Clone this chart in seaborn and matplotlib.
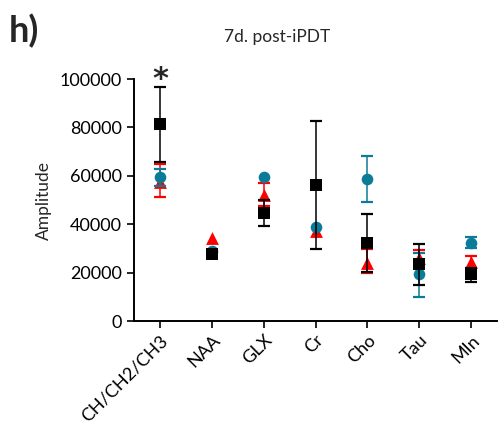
import matplotlib
matplotlib.use("Agg")
import matplotlib.pyplot as plt
import seaborn as sns
import numpy as np
import pandas as pd

categories = ["CH/CH2/CH3", "NAA", "GLX", "Cr", "Cho", "Tau", "MIn"]

black_mean = [81400, 27500, 44800, 56200, 32400, 23400, 19300]
black_hi = [96800, 27500, 50000, 82800, 44200, 31900, 21900]
black_lo = [65800, 27500, 39400, 29600, 20400, 14700, 16200]

teal_mean = [59600, 29000, 59400, 39000, 58700, 19400, 32100]
teal_hi = [63000, 29000, 59400, 39000, 68300, 28200, 34800]
teal_lo = [56000, 29000, 59400, 39000, 49300, 10000, 30200]

red_mean = [57600, 34200, 52100, 37300, 23800, 25900, 24200]
red_hi = [64900, 34200, 57200, 37300, 29600, 29300, 27000]
red_lo = [51400, 34200, 47500, 37300, 19700, 22500, 21500]

yticks = [0, 20000, 40000, 60000, 80000, 100000]

sns.set_style("ticks")
plt.rcParams["font.family"] = ["Lato", "DejaVu Sans"]

fig = plt.figure(figsize=(5, 4.25), dpi=100)
ax = fig.add_axes([0.268, 0.2447, 0.726, 0.5693])

series = [
    ("red", red_mean, red_hi, red_lo, "#FF0000", "^", 85, 3),
    ("teal", teal_mean, teal_hi, teal_lo, "#0B7B97", "o", 70, 4),
    ("black", black_mean, black_hi, black_lo, "#000000", "s", 75, 5),
]

x = np.arange(len(categories))
for name, m, hi, lo, col, mk, s, z in series:
    m = np.array(m); hi = np.array(hi); lo = np.array(lo)
    keep = hi > lo
    ax.errorbar(x[keep], m[keep], yerr=[(m - lo)[keep], (hi - m)[keep]], fmt="none",
                ecolor=col, elinewidth=1.1, capsize=4, capthick=1.6, zorder=z)
    df = pd.DataFrame({"cat": categories, "val": m})
    sns.scatterplot(data=df, x="cat", y="val", marker=mk, color=col, s=s,
                    edgecolor=col, linewidth=0, ax=ax, zorder=z + 0.5)

ax.set_xlim(-0.5, 6.5)
ax.set_ylim(0, 100000)
ax.set_yticks(yticks)
ax.set_yticklabels([str(v) for v in yticks], fontsize=13)
ax.set_xticks(x)
ax.set_xticklabels(categories, rotation=45, ha="right", rotation_mode="anchor", fontsize=13)
ax.set_xlabel("")
ax.set_ylabel("Amplitude", fontsize=12.5, labelpad=6)
for sp in ["top", "right"]:
    ax.spines[sp].set_visible(False)
for sp in ["left", "bottom"]:
    ax.spines[sp].set_linewidth(1.4)
    ax.spines[sp].set_color("black")
ax.tick_params(axis="both", width=1.2, length=5, color="black", labelcolor="black")
ax.tick_params(axis="x", pad=3)

ax.text(0, 99800, "*", ha="center", va="center", fontsize=22, fontweight="bold",
        family="DejaVu Sans", clip_on=False)

fig.text(0.555, 0.912, "7d. post-iPDT", ha="center", va="center", fontsize=12.5)
fig.text(0.018, 0.928, "h)", ha="left", va="center", fontsize=26, fontweight="bold")

fig.savefig("out.png", dpi=100)
